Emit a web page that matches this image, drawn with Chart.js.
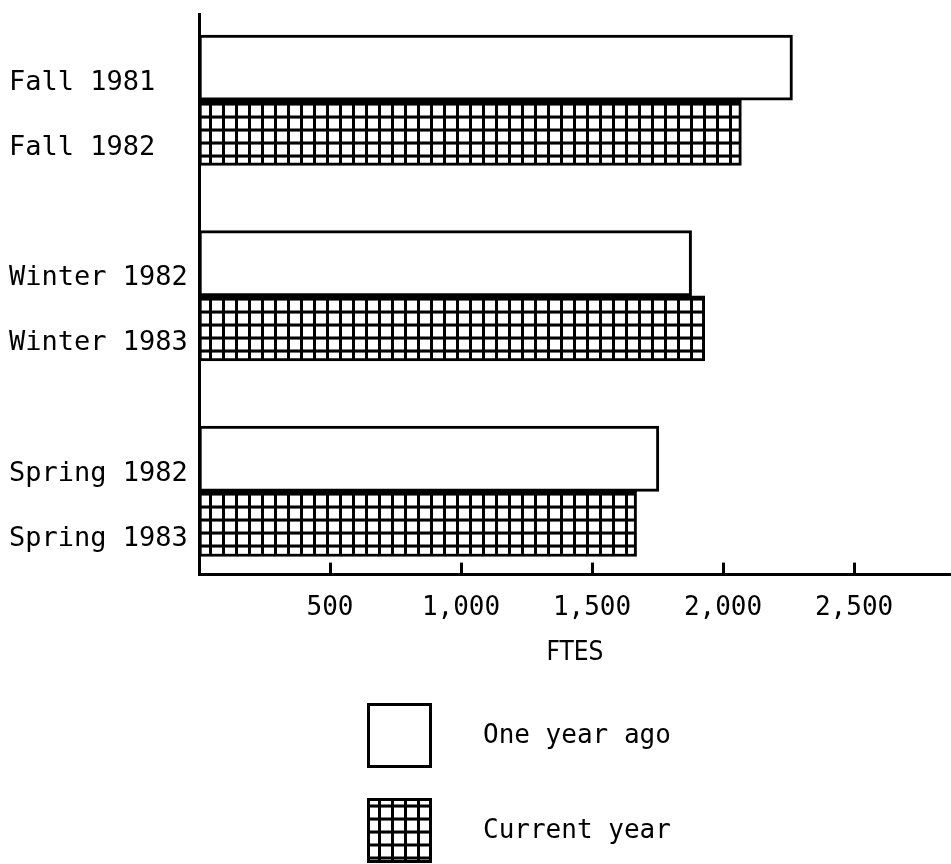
<!DOCTYPE html>
<html>
<head>
<meta charset="utf-8">
<script src="https://cdn.jsdelivr.net/npm/chart.js@4.4.1/dist/chart.umd.min.js"></script>
<style>
  body { margin: 0; background: #fff; }
</style>
</head>
<body>
<canvas id="ftesChart" width="951" height="864"></canvas>
<script>
// rows from top to bottom, blank rows are the gaps between terms
const periodLabels = ['Fall 1981', 'Fall 1982', '', 'Winter 1982', 'Winter 1983', '', 'Spring 1982', 'Spring 1983'];
const oneYearAgo = [2265, null, null, 1880, null, null, 1755, null];
const currentYear = [null, 2070, null, null, 1930, null, null, 1670];
const ftesTicks = [500, 1000, 1500, 2000, 2500];
const seriesNames = ['One year ago', 'Current year'];

const canvas = document.getElementById('ftesChart');
const ctx = canvas.getContext('2d');

// cross-hatch fill for current year
function gridPattern() {
  const tile = document.createElement('canvas');
  tile.width = 13;
  tile.height = 13;
  const t = tile.getContext('2d');
  t.fillStyle = '#fff';
  t.fillRect(0, 0, 13, 13);
  t.fillStyle = '#000';
  t.fillRect(0, 0, 13, 3);
  t.fillRect(0, 0, 3, 13);
  const p = ctx.createPattern(tile, 'repeat');
  p.setTransform(new DOMMatrix().translate(1, 11.5));
  return p;
}
const hatch = gridPattern();

function toPoints(values) {
  return values.map((v, i) => (v == null ? null : { x: v, y: i })).filter(Boolean);
}

// small tick marks standing on the x axis
const upTicks = {
  id: 'upTicks',
  afterDatasetsDraw(chart) {
    const xs = chart.scales.x;
    const c = chart.ctx;
    c.save();
    c.strokeStyle = '#000';
    c.lineWidth = 3;
    ftesTicks.forEach(v => {
      const px = Math.round(xs.getPixelForValue(v)) + 0.5;
      c.beginPath();
      c.moveTo(px, chart.chartArea.bottom - 12);
      c.lineTo(px, chart.chartArea.bottom);
      c.stroke();
    });
    c.restore();
  }
};

// legend stacked under the chart
const stackedLegend = {
  id: 'stackedLegend',
  afterDraw(chart, args, opts) {
    const c = chart.ctx;
    c.save();
    chart.data.datasets.forEach((ds, i) => {
      const y = opts.top + i * opts.step;
      c.fillStyle = ds.backgroundColor;
      c.fillRect(opts.left, y, opts.size, opts.size);
      c.strokeStyle = ds.borderColor;
      c.lineWidth = 3;
      c.strokeRect(opts.left + 1.5, y + 1.5, opts.size - 3, opts.size - 3);
      c.fillStyle = '#000';
      c.font = '26px "DejaVu Sans Mono"';
      c.textBaseline = 'middle';
      c.textAlign = 'left';
      c.fillText(ds.label, opts.textX, y + opts.size / 2 + 1);
    });
    c.restore();
  }
};

Chart.defaults.font.family = '"DejaVu Sans Mono", monospace';
Chart.defaults.color = '#000';

const ftesChart = new Chart(canvas, {
  type: 'bar',
  data: {
    datasets: [
      {
        label: seriesNames[0],
        data: toPoints(oneYearAgo),
        backgroundColor: '#fff',
        borderColor: '#000',
        borderWidth: 3,
        borderSkipped: false,
        grouped: false,
        barPercentage: 1,
        categoryPercentage: 1
      },
      {
        label: seriesNames[1],
        data: toPoints(currentYear),
        backgroundColor: hatch,
        borderColor: '#000',
        borderWidth: 3,
        borderSkipped: false,
        grouped: false,
        barPercentage: 1,
        categoryPercentage: 1
      }
    ]
  },
  options: {
    indexAxis: 'y',
    responsive: false,
    animation: false,
    layout: { padding: { top: 14, left: 9, right: 0, bottom: 191 } },
    plugins: {
      legend: { display: false },
      tooltip: { enabled: false },
      stackedLegend: { left: 367, top: 703, step: 95, size: 65, textX: 483 }
    },
    scales: {
      x: {
        type: 'linear',
        min: 0,
        max: 2870,
        grid: { display: false, drawTicks: false },
        border: { display: true, color: '#000', width: 3 },
        ticks: {
          autoSkip: false,
          maxRotation: 0,
          padding: 18,
          font: { size: 26 },
          callback: v => v.toLocaleString('en-US')
        },
        afterBuildTicks(scale) {
          scale.ticks = ftesTicks.map(v => ({ value: v }));
        },
        title: {
          display: true,
          text: 'FTES',
          font: { family: '"Liberation Sans Narrow", "DejaVu Sans Condensed", sans-serif', size: 26 },
          padding: { top: -4, bottom: 4 }
        },
        afterFit(scale) {
          scale.paddingLeft = 0;
          scale.paddingRight = 0;
        }
      },
      y: {
        type: 'linear',
        reverse: true,
        offset: false,
        min: -0.823,
        max: 7.777,
        grid: { display: false, drawTicks: false, offset: false },
        border: { display: true, color: '#000', width: 3 },
        ticks: {
          autoSkip: false,
          crossAlign: 'far',
          labelOffset: 15,
          font: { size: 27 },
          callback: v => periodLabels[v] ?? ''
        },
        afterBuildTicks(scale) {
          scale.ticks = periodLabels.map((_, i) => ({ value: i }));
        },
        afterFit(scale) {
          scale.width = 190;
          scale.paddingTop = 0;
          scale.paddingBottom = 0;
        }
      }
    }
  },
  plugins: [upTicks, stackedLegend]
});
</script>
</body>
</html>
